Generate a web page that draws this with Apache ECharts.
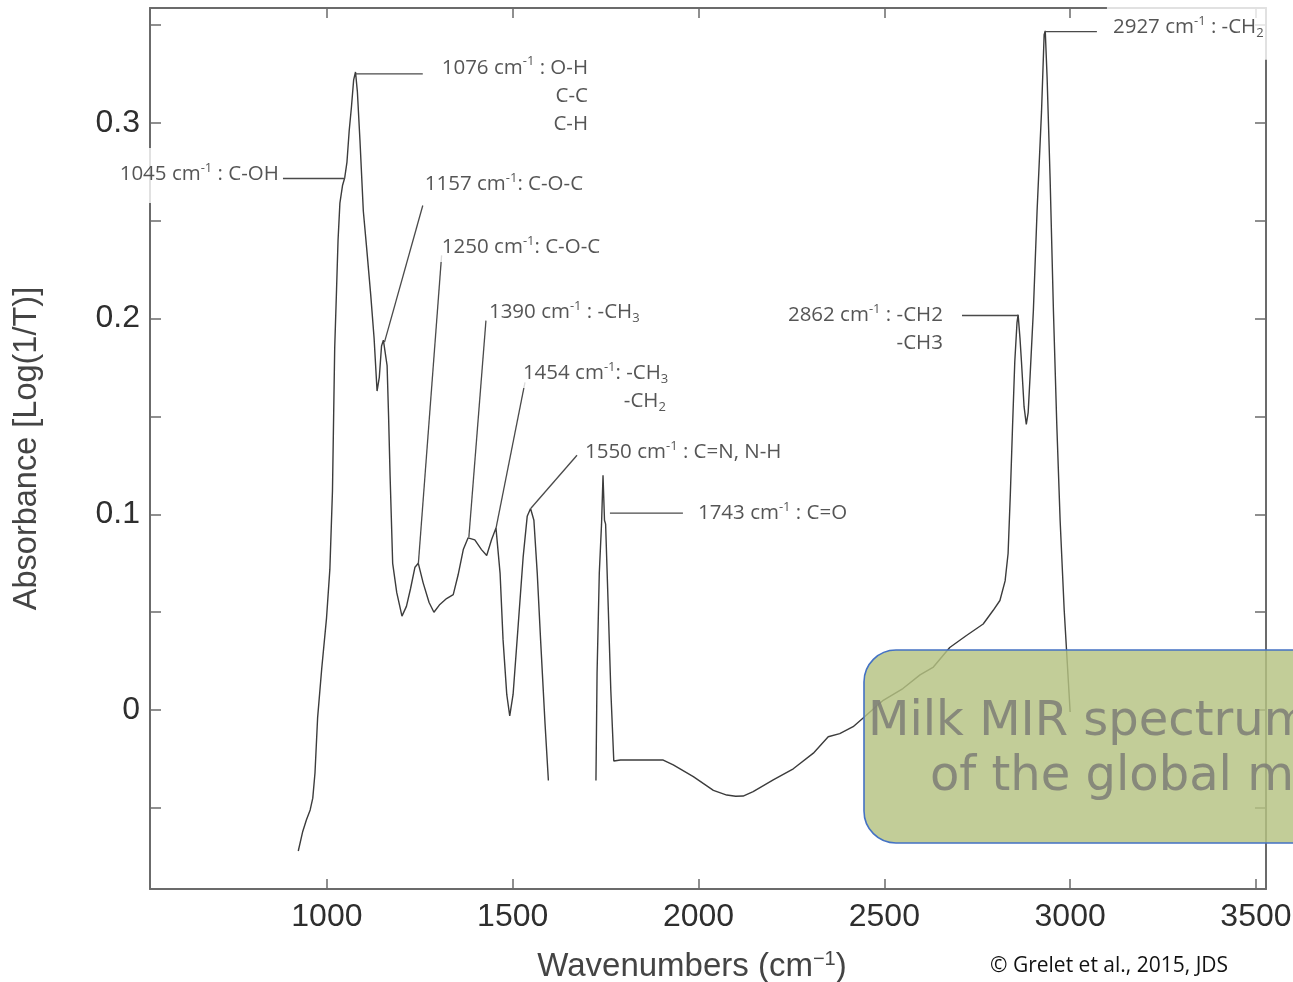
<!DOCTYPE html>
<html><head><meta charset="utf-8">
<script src="https://cdn.jsdelivr.net/npm/echarts@6/dist/echarts.min.js"></script>
<style>html,body{margin:0;padding:0;background:#fff}#c{width:1293px;height:982px}</style>
</head><body><div id="c"></div><script>
// ---- data ----
const wavenumbers = [923,935,945,955,962,968,975,986,999,1008,1015,1021,1026,1030,1035,1042,1048,1054,1060,1066,1072,1077,1082,1089,1098,1107,1118,1127,1135,1141,1147,1152,1157,1162,1166,1170,1177,1188,1202,1214,1225,1237,1246,1259,1275,1288,1304,1322,1340,1353,1367,1380,1398,1416,1430,1443,1455,1466,1474,1484,1492,1501,1515,1528,1539,1548,1557,1566,1575,1587,1596,1660,1724,1727,1733,1739,1743,1747,1750,1757,1764,1772,1790,1850,1905,1932,1986,2040,2076,2100,2120,2147,2201,2255,2309,2349,2380,2416,2443,2497,2550,2596,2632,2676,2720,2766,2793,2811,2825,2833,2839,2845,2851,2857,2860,2865,2869,2876,2882,2887,2892,2901,2911,2923,2930,2933,2938,2946,2955,2964,2973,2984,3000];
const absorbance = [-0.072,-0.062,-0.056,-0.051,-0.045,-0.032,-0.004,0.021,0.047,0.072,0.112,0.185,0.215,0.240,0.259,0.268,0.272,0.280,0.296,0.308,0.322,0.326,0.316,0.291,0.255,0.236,0.212,0.190,0.163,0.170,0.186,0.189,0.189,0.176,0.150,0.120,0.075,0.060,0.048,0.053,0.062,0.073,0.075,0.065,0.055,0.050,0.054,0.057,0.059,0.069,0.082,0.088,0.087,0.082,0.079,0.087,0.093,0.070,0.036,0.008,-0.003,0.008,0.044,0.078,0.099,0.103,0.097,0.070,0.036,-0.007,-0.036,null,-0.036,0.019,0.070,0.095,0.120,0.097,0.095,0.053,0.010,-0.026,-0.0255,-0.0255,-0.0255,-0.028,-0.034,-0.041,-0.0434,-0.044,-0.0439,-0.0417,-0.0357,-0.030,-0.022,-0.0136,-0.012,-0.0085,-0.004,0.005,0.011,0.018,0.022,0.032,0.038,0.044,0.051,0.056,0.066,0.080,0.110,0.145,0.178,0.198,0.202,0.190,0.178,0.155,0.146,0.152,0.170,0.204,0.255,0.306,0.345,0.347,0.323,0.272,0.204,0.146,0.097,0.051,-0.001];

const xTickValues = [1000,1500,2000,2500,3000,3500];
const yTickValues = [-0.05,0,0.05,0.1,0.15,0.2,0.25,0.3,0.35];
const yLabelValues = [0,0.1,0.2,0.3];

// peak annotations: text, anchor wavenumber, anchor absorbance, side of anchor the text grows to
const annTexts = [
  '1076 cm{s|-1} : O-H', 'C-C', 'C-H',
  '1045 cm{s|-1} : C-OH',
  '1157 cm{s|-1}: C-O-C',
  '1250 cm{s|-1}: C-O-C',
  '1390 cm{s|-1} : -CH{b|3}',
  '1454 cm{s|-1}: -CH{b|3}', '-CH{b|2}',
  '1550 cm{s|-1} : C=N, N-H',
  '1743 cm{s|-1} : C=O',
  '2862 cm{s|-1} : -CH2', '-CH3',
  '2927 cm{s|-1} : -CH{b|2}'
];
const annX = [1708,1708,1708, 881.6, 1258, 1304, 1430.6, 1522,1917.6, 1689, 1993, 2663,2663, 3099];
const annY = [0.3282,0.3139,0.2996, 0.2731, 0.2685, 0.2363, 0.2032, 0.172,0.1577, 0.1317, 0.1006, 0.2016,0.1873, 0.3466];
const annSide = ['left','left','left','left','right','right','right','right','left','right','right','left','left','right'];

// leader lines: [from wavenumber, from absorbance, to wavenumber, to absorbance]
const leaders = [
  [1078,0.325,1258,0.325],
  [881.6,0.2716,1048,0.2716],
  [1155,0.188,1258,0.2578],
  [1246,0.0745,1308.7,0.2323],
  [1382,0.0883,1428,0.199],
  [1455,0.0929,1533,0.1674],
  [1549,0.1031,1673,0.1302],
  [1761.6,0.1006,1958,0.1006],
  [2709,0.2016,2860,0.2016],
  [2932,0.3466,3072,0.3466]
];

const FRAME = '#6b6b6b';
const chart = echarts.init(document.getElementById('c'), null, {renderer:'canvas'});

const specData = wavenumbers.map((w,i)=>[w, absorbance[i]]);
const padFor = i => (i===3 ? [14,4,16,4] : (i===13 ? [11,6,20,6] : [2,2,2,2]));
const annData = annTexts.map((t,i)=>({
  value:[annX[i], annY[i]],
  label:{position: annSide[i], padding: padFor(i)}
}));

const leaderSeries = leaders.map(l=>({
  type:'line', xAxisIndex:0, yAxisIndex:0, z:3,
  data:[[l[0],l[1]],[l[2],l[3]]],
  showSymbol:false, symbol:'none', silent:true, animation:false,
  lineStyle:{color:'#4a4a4a', width:1.3}
}));

const axisCommon = {
  type:'value',
  axisLine:{show:true, onZero:false, lineStyle:{color:FRAME, width:2}},
  splitLine:{show:false},
};

chart.setOption({
  animation:false,
  backgroundColor:'#ffffff',
  grid:{left:150, right:27, top:8, bottom:93, containLabel:false, outerBoundsMode:'none'},
  xAxis:[
    Object.assign({}, axisCommon, {
      min:524, max:3527, position:'bottom',
      axisTick:{show:true, inside:true, length:10, customValues:xTickValues, lineStyle:{color:FRAME, width:1.5}},
      axisLabel:{show:true, customValues:xTickValues, margin:12, fontSize:32, color:'#2e2e2e', fontFamily:'Liberation Sans', formatter:v=>String(v)},
      name:'{a|Wavenumbers (cm}{s|\u22121}{a|)}', nameLocation:'middle', nameGap:60,
      nameTextStyle:{padding:[0,32,0,0], rich:{
        a:{fontSize:33, color:'#444', fontFamily:'Liberation Sans', lineHeight:36},
        s:{fontSize:20, color:'#444', fontFamily:'Liberation Sans', lineHeight:19, verticalAlign:'top'}
      }}
    }),
    Object.assign({}, axisCommon, {
      min:524, max:3527, position:'top',
      axisTick:{show:true, inside:true, length:10, customValues:xTickValues, lineStyle:{color:FRAME, width:1.5}},
      axisLabel:{show:false}
    })
  ],
  yAxis:[
    Object.assign({}, axisCommon, {
      min:-0.0914, max:0.3587, position:'left',
      axisTick:{show:true, inside:true, length:11, customValues:yTickValues, lineStyle:{color:FRAME, width:1.5}},
      axisLabel:{show:true, customValues:yLabelValues, margin:10, fontSize:32, color:'#2e2e2e', fontFamily:'Liberation Sans'},
      name:'Absorbance [Log(1/T)]', nameLocation:'middle', nameGap:106, nameRotate:90,
      nameTextStyle:{fontSize:32.5, color:'#444', fontFamily:'Liberation Sans'}
    }),
    Object.assign({}, axisCommon, {
      min:-0.0914, max:0.3587, position:'right',
      axisTick:{show:true, inside:true, length:11, customValues:yTickValues, lineStyle:{color:FRAME, width:1.5}},
      axisLabel:{show:false}
    })
  ],
  series:[
    {
      type:'line', name:'Milk MIR spectrum', xAxisIndex:0, yAxisIndex:0, z:2,
      data:specData, showSymbol:false, symbol:'none', connectNulls:false,
      lineStyle:{color:'#3c3c3c', width:1.4}
    },
    ...leaderSeries,
    {
      type:'scatter', xAxisIndex:0, yAxisIndex:0, z:5, symbolSize:0, silent:true,
      data:annData,
      label:{
        show:true, distance:0,
        formatter:p=>annTexts[p.dataIndex],
        backgroundColor:'#ffffff',
        fontFamily:'Open Sans', fontSize:20.5, color:'#2a2a2a', lineHeight:25,
        rich:{
          s:{fontFamily:'Open Sans', fontSize:13, color:'#2a2a2a', lineHeight:13, verticalAlign:'top'},
          b:{fontFamily:'Open Sans', fontSize:13, color:'#2a2a2a', lineHeight:13, verticalAlign:'bottom'}
        }
      }
    }
  ],
  graphic:[
    {type:'rect', z:100, shape:{x:864, y:650, width:520, height:193, r:32},
     style:{fill:'rgba(181,194,129,0.82)', stroke:'#4472c4', lineWidth:1.6}},
    {type:'text', z:101, x:868, y:699,
     style:{text:'Milk MIR spectrum', fontFamily:'DejaVu Sans', fontSize:48, fill:'rgba(125,125,118,0.85)'}},
    {type:'text', z:101, x:930, y:754,
     style:{text:'of the global milk', fontFamily:'DejaVu Sans', fontSize:48, fill:'rgba(125,125,118,0.85)'}},
    {type:'text', z:101, x:990, y:956,
     style:{text:'\u00a9 Grelet et al., 2015, JDS', fontFamily:'Open Sans', fontSize:21, fill:'#111'}}
  ]
});
</script></body></html>
